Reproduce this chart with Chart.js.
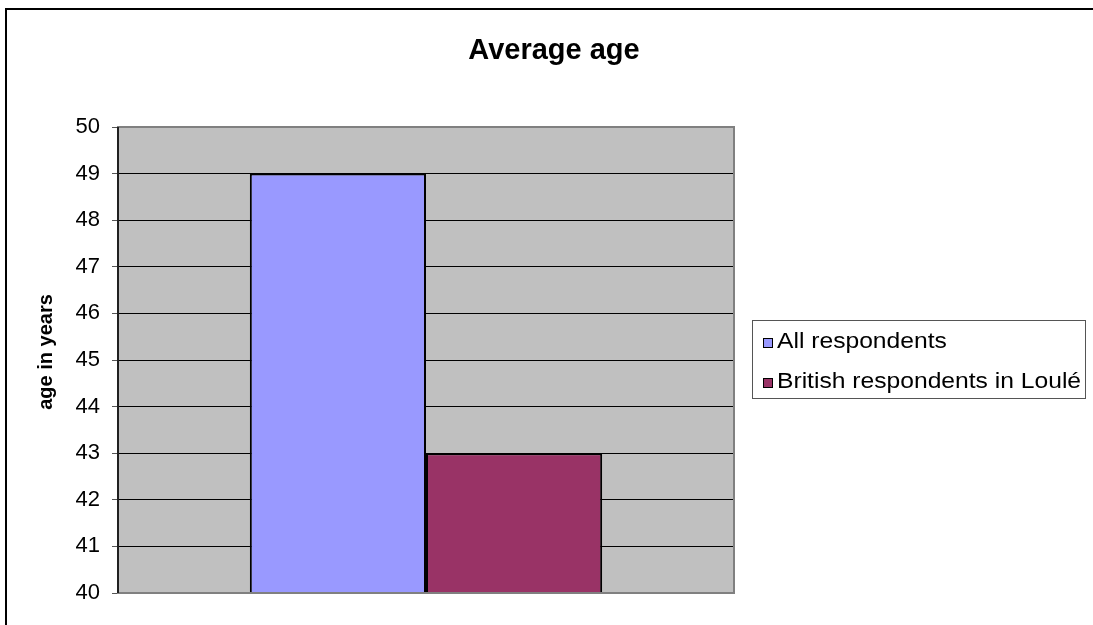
<!DOCTYPE html>
<html>
<head>
<meta charset="utf-8">
<script src="https://cdn.jsdelivr.net/npm/chart.js@4"></script>
<style>
  html, body { margin: 0; padding: 0; background: #fff; }
  #wrap { width: 1093px; height: 625px; }
</style>
</head>
<body>
<div id="wrap"><canvas id="ageChart" width="1093" height="625"></canvas></div>
<script>
const chartTitle = "Average age";
const axisTitle = "age in years";
const categories = [""];
const seriesNames = ["All respondents", "British respondents in Loulé"];
const allValues = [49];
const britishValues = [43];
const seriesColors = ["#9999FF", "#993366"];
const yMin = 40;
const yMax = 50;

const fontFam = "Arial, 'Liberation Sans', sans-serif";

// grey plot background, frame, titles and boxed legend
const decor = {
    id: "decor",
    beforeDraw(chart) {
        const ctx = chart.ctx;
        const a = chart.chartArea;
        ctx.save();
        ctx.fillStyle = "#fff";
        ctx.fillRect(0, 0, chart.width, chart.height);
        ctx.fillStyle = "#C0C0C0";
        ctx.fillRect(a.left, a.top, a.right - a.left, a.bottom - a.top);
        ctx.restore();
    },
    afterDraw(chart) {
        const ctx = chart.ctx;
        const a = chart.chartArea;
        ctx.save();

        // plot border
        ctx.strokeStyle = "#808080";
        ctx.lineWidth = 2;
        ctx.strokeRect(a.left, a.top, a.right - a.left, a.bottom - a.top);
        ctx.strokeStyle = "#000";
        ctx.lineWidth = 1.5;
        ctx.beginPath();
        ctx.moveTo(a.left, a.top);
        ctx.lineTo(a.left, a.bottom);
        ctx.stroke();

        // outer frame
        ctx.strokeStyle = "#000";
        ctx.lineWidth = 2;
        ctx.strokeRect(6, 9, 1300, 800);

        // title
        ctx.fillStyle = "#000";
        ctx.font = "bold 29px " + fontFam;
        ctx.textAlign = "center";
        ctx.textBaseline = "alphabetic";
        ctx.fillText(chartTitle, 554, 59);

        // y axis title
        ctx.save();
        ctx.translate(46, 352);
        ctx.rotate(-Math.PI / 2);
        ctx.font = "bold 20px " + fontFam;
        ctx.textBaseline = "middle";
        ctx.fillText(axisTitle, 0, 0);
        ctx.restore();

        // legend
        ctx.strokeStyle = "#555";
        ctx.lineWidth = 1;
        ctx.strokeRect(752.5, 320.5, 333, 78);
        ctx.font = "22px " + fontFam;
        ctx.textAlign = "left";
        seriesNames.forEach((name, i) => {
            const base = 348 + i * 40;
            ctx.fillStyle = seriesColors[i];
            ctx.fillRect(763, base - 10, 10, 10);
            ctx.strokeStyle = "#000";
            ctx.strokeRect(763.5, base - 9.5, 9, 9);
            ctx.fillStyle = "#000";
            ctx.save();
            ctx.translate(777, base);
            ctx.scale(1.12, 1);
            ctx.fillText(name, 0, 0);
            ctx.restore();
        });
        ctx.restore();
    }
};

new Chart(document.getElementById("ageChart"), {
    type: "bar",
    data: {
        labels: categories,
        datasets: [
            {
                label: seriesNames[0],
                data: allValues,
                backgroundColor: seriesColors[0],
                borderColor: "#000",
                borderWidth: 2,
                borderSkipped: false
            },
            {
                label: seriesNames[1],
                data: britishValues,
                backgroundColor: seriesColors[1],
                borderColor: "#000",
                borderWidth: 2,
                borderSkipped: false
            }
        ]
    },
    options: {
        responsive: false,
        animation: false,
        devicePixelRatio: 1,
        layout: { padding: { top: 127, bottom: 32, left: 0, right: 359 } },
        plugins: {
            legend: { display: false },
            title: { display: false },
            tooltip: { enabled: false }
        },
        datasets: {
            bar: { categoryPercentage: 0.572, barPercentage: 1 }
        },
        scales: {
            x: {
                grid: { display: false, drawTicks: false },
                border: { display: false },
                ticks: { display: false },
                afterFit(s) { s.height = 0; }
            },
            y: {
                min: yMin,
                max: yMax,
                afterFit(s) { s.width = 118; },
                ticks: {
                    stepSize: 1,
                    color: "#000",
                    padding: 12,
                    font: { family: fontFam, size: 22 }
                },
                grid: {
                    color: "#000",
                    lineWidth: 1,
                    tickLength: 6,
                    tickColor: "#555"
                },
                border: { display: false },
                title: { display: false }
            }
        }
    },
    plugins: [decor]
});
</script>
</body>
</html>
